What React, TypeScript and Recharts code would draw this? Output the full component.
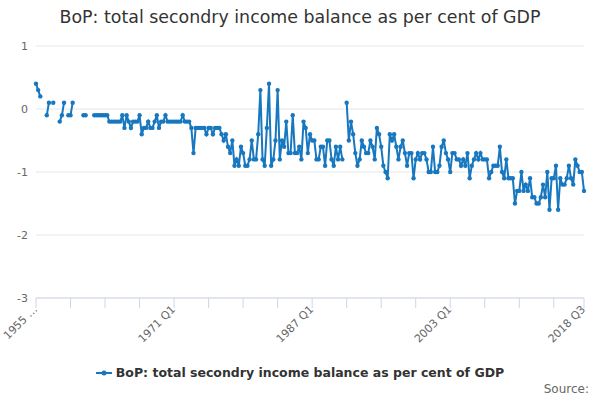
import React from 'react';
import { LineChart, Line, XAxis, YAxis, CartesianGrid } from 'recharts';

// quarterly % of GDP, first point is 1955 Q1, gaps are missing quarters
const START_YEAR = 1955;

const values1955to1970 = [
  0.4, 0.3, 0.2, null, null, -0.1, 0.1, null, 0.1, null,
  null, -0.2, -0.1, 0.1, null, -0.1, -0.1, 0.1, null, null,
  null, null, -0.1, -0.1, null, null, null, -0.1, -0.1, -0.1,
  -0.1, -0.1, -0.1, -0.1, -0.2, -0.2, -0.2, -0.2, -0.2, -0.2,
  -0.1, -0.3, -0.1, -0.2, -0.3, -0.2, -0.2, -0.2, -0.1, -0.4,
  -0.3, -0.3, -0.2, -0.3, -0.3, -0.2, -0.1, -0.3, -0.2, -0.2,
  -0.1, -0.2, -0.2, -0.2,
];
const values1971to1986 = [
  -0.2, -0.2, -0.2, -0.2, -0.1, -0.2,
  -0.2, -0.2, -0.3, -0.7, -0.3, -0.3, -0.3, -0.3, -0.3, -0.4,
  -0.3, -0.3, -0.4, -0.3, -0.3, -0.3, -0.4, -0.5, -0.4, -0.6,
  -0.7, -0.5, -0.9, -0.8, -0.9, -0.6, -0.7, -0.9, -0.9, -0.8,
  -0.5, -0.8, -0.8, -0.4, 0.3, -0.8, -0.9, -0.3, 0.4, -0.9,
  -0.8, -0.5, 0.3, -0.8, -0.5, -0.6, -0.2, -0.7, -0.7, -0.1,
  -0.7, -0.7, -0.6, -0.8, -0.2, -0.3, -0.7, -0.4,
];
const values1987to2002 = [
  -0.5, -0.5,
  -0.8, -0.8, -0.6, -0.6, -0.9, -0.5, -0.5, -0.8, -0.9, -0.6,
  -0.8, -0.6, -0.8, null, 0.1, -0.5, -0.2, -0.4, -0.7, -0.9,
  -0.8, -0.5, -0.6, -0.7, -0.7, -0.5, -0.6, -0.8, -0.3, -0.4,
  -0.6, -0.9, -1.0, -1.1, -0.4, -0.5, -0.4, -0.6, -0.8, -0.6,
  -0.5, -0.7, -0.9, -0.7, -0.7, -1.1, -0.8, -0.7, -0.8, -0.7,
  -0.7, -0.8, -1.0, -1.0, -0.6, -1.0, -1.0, -0.9, -0.6, -0.5,
  -0.7, -0.8,
];
const values2003to2018 = [
  -1.0, -0.7, -0.7, -0.8, -0.8, -0.9, -0.8, -0.9,
  -0.7, -1.1, -0.9, -0.8, -0.7, -0.8, -0.7, -0.8, -0.8, -0.8,
  -1.1, -1.0, -0.9, -0.9, -0.9, -0.6, -1.0, -1.1, -0.8, -1.1,
  -1.1, -1.1, -1.5, -1.3, -1.3, -1.0, -1.3, -1.2, -1.3, -1.1,
  -1.4, -1.4, -1.5, -1.5, -1.4, -1.2, -1.4, -1.0, -1.6, -1.1,
  -1.1, -0.9, -1.6, -1.1, -1.2, -1.2, -1.1, -0.9, -1.1, -1.2,
  -0.8, -0.9, -1.0, -1.0, -1.3,
];

const tickLabels = ['1955 …', '1971 Q1', '1987 Q1', '2003 Q1', '2018 Q3'];
const labelIndex = [0, 64, 128, 192, 254];
const yTicks = [-3, -2, -1, 0, 1];

const balance = [...values1955to1970, ...values1971to1986, ...values1987to2002, ...values2003to2018];
const data = balance.map((v, i) => ({
  idx: i,
  quarter: `${START_YEAR + Math.floor(i / 4)} Q${(i % 4) + 1}`,
  balance: v,
}));
const last = balance.length - 1;
// tick marks every 4 years, plus the last quarter
const xTicks = [...data.filter((d) => d.idx % 16 === 0).map((d) => d.idx), last];

const BLUE = '#1777bf';
const FONT = "'DejaVu Sans', sans-serif";
const SERIES_NAME = 'BoP: total secondry income balance as per cent of GDP';

function QuarterTick({ x, y, payload }: any) {
  const pos = labelIndex.indexOf(payload.value);
  if (pos < 0) return <g />;
  return (
    <text x={x + 2} y={y} textAnchor="end" transform={`rotate(-45 ${x + 2} ${y})`} fill="#666" fontSize={11} fontFamily={FONT}>
      {tickLabels[pos]}
    </text>
  );
}

export default function App() {
  return (
    <div style={{ position: 'absolute', left: 0, top: 0, width: 600, height: 400, background: '#fff', fontFamily: FONT }}>
      <div style={{ position: 'absolute', top: 7, width: 600, textAlign: 'center', fontSize: 17.4, color: '#333' }}>
        {SERIES_NAME}
      </div>

      <LineChart width={600} height={400} data={data} margin={{ top: 46, right: 16, bottom: 72, left: 0 }}>
        <CartesianGrid vertical={false} stroke="#e6e6e6" />
        <XAxis
          dataKey="idx"
          type="number"
          domain={[0, last]}
          ticks={xTicks}
          interval={0}
          tick={<QuarterTick />}
          tickSize={10}
          tickMargin={2}
          stroke="#ccd6eb"
          height={30}
        />
        <YAxis
          domain={[-3, 1]}
          ticks={yTicks}
          width={36}
          axisLine={false}
          tickLine={false}
          tick={{ fill: '#666', fontSize: 11, fontFamily: FONT }}
        />
        <Line
          type="linear"
          dataKey="balance"
          stroke={BLUE}
          strokeWidth={2}
          dot={{ r: 2.2, fill: BLUE, stroke: BLUE, strokeWidth: 0 }}
          connectNulls={false}
          isAnimationActive={false}
        />
      </LineChart>

      <div style={{ position: 'absolute', top: 365, width: 600, display: 'flex', justifyContent: 'center', alignItems: 'center' }}>
        <svg width={16} height={10} style={{ marginRight: 4 }}>
          <line x1={0} y1={5} x2={16} y2={5} stroke={BLUE} strokeWidth={2} />
          <circle cx={8} cy={5} r={2.5} fill={BLUE} />
        </svg>
        <span style={{ fontSize: 12.5, fontWeight: 'bold', color: '#333' }}>{SERIES_NAME}</span>
      </div>

      <div style={{ position: 'absolute', top: 382, right: 11, fontSize: 12, color: '#666' }}>Source:</div>
    </div>
  );
}
